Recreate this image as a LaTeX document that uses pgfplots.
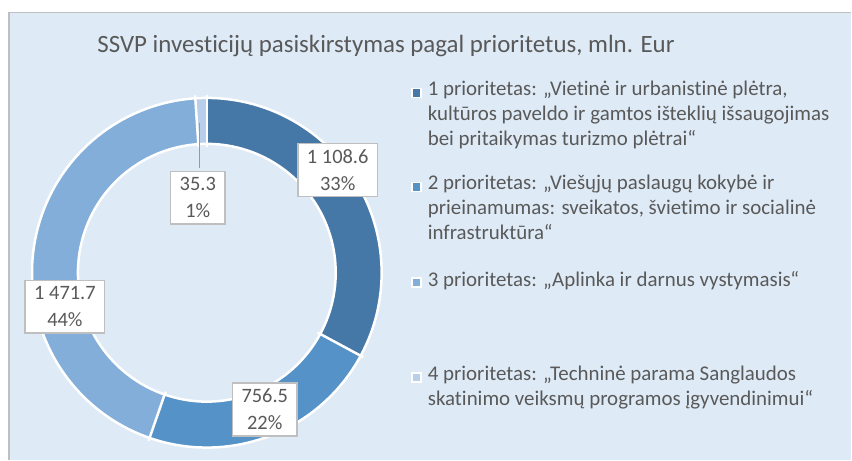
\documentclass[border=0pt]{standalone}
\usepackage{pgfplots}
\pgfplotsset{compat=1.18}
\usepackage{fontspec}
\setmainfont{Carlito}[Ligatures={NoCommon}]
\definecolor{bg}{RGB}{222,234,246}
\definecolor{c1}{RGB}{69,119,167}
\definecolor{c2}{RGB}{84,146,200}
\definecolor{c3}{RGB}{132,174,218}
\definecolor{c4}{RGB}{184,206,234}
\definecolor{txt}{RGB}{89,89,89}
\definecolor{bord}{RGB}{191,191,191}
% data (mln. Eur)
\def\vA{1108.6}
\def\vB{756.5}
\def\vC{1471.7}
\def\vD{35.3}
\pgfmathsetmacro\tot{\vA+\vB+\vC+\vD}
\pgfmathsetmacro\aA{90}
\pgfmathsetmacro\aB{\aA-360*(\vA/\tot)}
\pgfmathsetmacro\aC{\aB-360*(\vB/\tot)}
\pgfmathsetmacro\aD{\aC-360*(\vC/\tot)}
\pgfmathsetmacro\aE{\aD-360*(\vD/\tot)}
\def\cx{207}
\def\cy{187}
\begin{document}
\begin{tikzpicture}
\begin{axis}[width=852bp, height=460bp, scale only axis, xmin=0, xmax=852, ymin=0, ymax=460,
  hide axis, clip=false, axis line style={draw=none}]
\fill[white] (axis cs:0,0) rectangle (axis cs:852,460);
\fill[bg] (axis cs:9,0) rectangle (axis cs:852,447.5);
\draw[bord, line width=1.5bp] (axis cs:9,0) -- (axis cs:9,447.5) -- (axis cs:852,447.5);
% donut slices
\addplot[c1, line width=46bp, domain=\aB:\aA, samples=80, no markers] ({\cx+152*cos(x)},{\cy+152*sin(x)});
\addplot[c2, line width=46bp, domain=\aC:\aB, samples=60, no markers] ({\cx+152*cos(x)},{\cy+152*sin(x)});
\addplot[c3, line width=46bp, domain=\aD:\aC, samples=100, no markers] ({\cx+152*cos(x)},{\cy+152*sin(x)});
\addplot[c4, line width=46bp, domain=\aE:\aD, samples=5, no markers] ({\cx+152*cos(x)},{\cy+152*sin(x)});
% white borders
\addplot[white, line width=2.5bp, domain=0:360, samples=180, no markers] ({\cx+175*cos(x)},{\cy+175*sin(x)});
\addplot[white, line width=2.5bp, domain=0:360, samples=180, no markers] ({\cx+129*cos(x)},{\cy+129*sin(x)});
\foreach \a in {\aA,\aB,\aC,\aD} {
  \addplot[white, line width=2.5bp, domain=126:178, samples=2, no markers, variable=\r] ({\cx+\r*cos(\a)},{\cy+\r*sin(\a)});
}
% leader line for small slice
\addplot[bord!80!black, line width=1bp, no markers] coordinates {(200,337) (200,292)};
% data labels
\tikzset{lab/.style={draw=bord, line width=1.5bp, fill=white, text=txt, align=center,
  font=\fontsize{20.5}{27}\selectfont, inner xsep=9bp, inner ysep=6bp}}
\node[lab] at (axis cs:338,290) {1 108.6\\33\%};
\node[lab] at (axis cs:265,50) {756.5\\22\%};
\node[lab] at (axis cs:65,153) {1 471.7\\44\%};
\node[lab] at (axis cs:198,262) {35.3\\1\%};
% title
\node[text=txt, font=\fontsize{25}{30}\selectfont, anchor=base west] at (axis cs:94,407) {SSVP investicijų pasiskirstymas pagal prioritetus, mln. Eur};
% legend
\tikzset{leg/.style={anchor=north west, text=txt, align=left, font=\fontsize{21}{25}\selectfont, inner sep=0pt},
  legsq/.style={draw=white, line width=1.5bp, minimum size=9bp, inner sep=0pt}}
\node[legsq, fill=c1] at (axis cs:417,367) {};
\node[leg] at (axis cs:428,379) {1 prioritetas: „Vietinė ir urbanistinė plėtra,\\kultūros paveldo ir gamtos išteklių išsaugojimas\\bei pritaikymas turizmo plėtrai“};
\node[legsq, fill=c2] at (axis cs:417,273) {};
\node[leg] at (axis cs:428,285) {2 prioritetas: „Viešųjų paslaugų kokybė ir\\prieinamumas: sveikatos, švietimo ir socialinė\\infrastruktūra“};
\node[legsq, fill=c3] at (axis cs:417,177) {};
\node[leg] at (axis cs:428,189) {3 prioritetas: „Aplinka ir darnus vystymasis“};
\node[legsq, fill=c4] at (axis cs:417,82) {};
\node[leg] at (axis cs:428,94) {4 prioritetas: „Techninė parama Sanglaudos\\skatinimo veiksmų programos įgyvendinimui“};
\end{axis}
\end{tikzpicture}
\end{document}
